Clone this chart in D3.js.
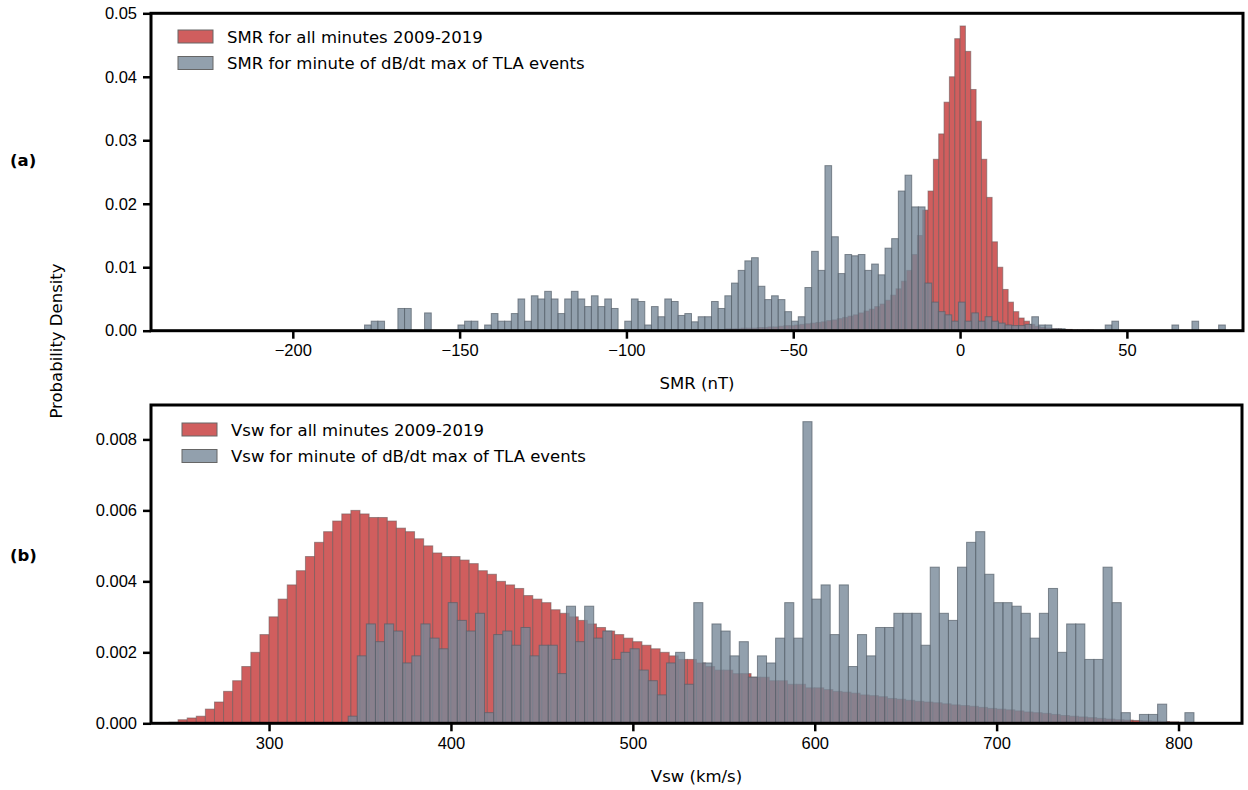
<!DOCTYPE html>
<html>
<head>
<meta charset="utf-8">
<script src="https://cdn.jsdelivr.net/npm/d3@7"></script>
<style>
  body { margin: 0; background: #fff; }
  svg { font-family: "DejaVu Sans", sans-serif; }
  .tick text { font-size: 16.5px; fill: #000; }
</style>
</head>
<body>
<script>
// ---- data: panel (a) SMR ----
const smrAllStart = -80, smrAllWidth = 1.6;
const smrAll = [
  0.0001, 0.0001, 0.0002, 0.0002, 0.0002, 0.0002, 0.0003, 0.0003, 0.0003, 0.0004,
  0.0004, 0.0004, 0.0005, 0.0005, 0.0006, 0.0006, 0.0007, 0.0008, 0.0008, 0.0009,
  0.0010, 0.0011, 0.0012, 0.0013, 0.0014, 0.0016, 0.0017, 0.0019, 0.0021, 0.0023,
  0.0025, 0.0028, 0.0031, 0.0034, 0.0038, 0.0042, 0.0048, 0.0056, 0.0066, 0.0078,
  0.0095, 0.0120, 0.0150, 0.0190, 0.0220, 0.0270, 0.0310, 0.0360, 0.0400, 0.0460,
  0.0480, 0.0440, 0.0380, 0.0330, 0.0270, 0.0210, 0.0140, 0.0100, 0.0065, 0.0045,
  0.0030, 0.0020, 0.0015, 0.0010, 0.0007, 0.0005, 0.0004, 0.0003, 0.0003, 0.0002,
  0.0002, 0.0001, 0.0001, 0.0001, 0.0001
];
const smrTlaStart = -178.5, smrTlaWidth = 2;
const smrTla = [
  0.0009, 0.0015, 0.0015, 0, 0, 0.0035, 0.0035, 0, 0, 0.0028,
  0, 0, 0, 0, 0.0009, 0.0015, 0.0015, 0, 0.0009, 0.0027,
  0.0015, 0.0015, 0.0027, 0.0050, 0.0015, 0.0055, 0.0050, 0.0062, 0.0050, 0.0027,
  0.0050, 0.0062, 0.0050, 0.0038, 0.0055, 0.0038, 0.0050, 0.0035, 0, 0.0015,
  0.0050, 0.0046, 0.0009, 0.0038, 0.0022, 0.0050, 0.0046, 0.0024, 0.0027, 0.0014,
  0.0022, 0.0022, 0.0046, 0.0035, 0.0055, 0.0075, 0.0095, 0.0110, 0.0115, 0.0070,
  0.0049, 0.0055, 0.0049, 0.0030, 0.0015, 0.0022, 0.0068, 0.0125, 0.0095, 0.0260,
  0.0148, 0.0090, 0.0120, 0.0118, 0.0120, 0.0095, 0.0105, 0.0088, 0.0130, 0.0145,
  0.0220, 0.0245, 0.0195, 0.0195, 0.0075, 0.0045, 0.0030, 0.0025, 0.0015, 0.0045,
  0.0015, 0.0028, 0.0015, 0.0022, 0.0015, 0.0012, 0.0009, 0.0008, 0.0008, 0.0010,
  0.0022, 0.0009, 0.0009, 0.0003, 0.0003, 0, 0, 0, 0, 0,
  0, 0.0009, 0.0015, 0, 0, 0, 0, 0, 0, 0,
  0, 0.0009, 0, 0, 0.0015, 0, 0, 0, 0.0009
];
const smrTicksX = [-200, -150, -100, -50, 0, 50];
const smrTicksY = [0, 0.01, 0.02, 0.03, 0.04, 0.05];

// ---- data: panel (b) Vsw ----
const vswAllStart = 245, vswAllWidth = 5;
const vswAll = [
  0.00003, 0.0001, 0.00015, 0.0002, 0.0004, 0.0006, 0.0009, 0.0012, 0.0016, 0.0020,
  0.0025, 0.0030, 0.0035, 0.0039, 0.0043, 0.0047, 0.0051, 0.0054, 0.0057, 0.0059,
  0.0060, 0.0059, 0.0058, 0.0058, 0.0057, 0.0055, 0.0054, 0.0052, 0.0050, 0.0048,
  0.0047, 0.0047, 0.0046, 0.0045, 0.0043, 0.0042, 0.0040, 0.0039, 0.0038, 0.0036,
  0.0035, 0.0034, 0.0032, 0.0031, 0.0030, 0.0029, 0.0028, 0.0027, 0.0026, 0.0025,
  0.0024, 0.0023, 0.0022, 0.0021, 0.0020, 0.0019, 0.0018, 0.0018, 0.0017, 0.0016,
  0.0015, 0.0015, 0.0014, 0.0014, 0.0013, 0.0013, 0.0012, 0.0012, 0.0011, 0.0011,
  0.0010, 0.0010, 0.00095, 0.0009, 0.00088, 0.00085, 0.0008, 0.00078, 0.00075, 0.0007,
  0.00068, 0.00065, 0.00062, 0.0006, 0.00058, 0.00055, 0.00052, 0.0005, 0.00048, 0.00045,
  0.00042, 0.0004, 0.00038, 0.00035, 0.00032, 0.0003, 0.00028, 0.00025, 0.00022, 0.0002,
  0.00018, 0.00016, 0.00014, 0.00012, 0.0001, 0.00009, 0.00008, 0.00007, 0.00006, 0.00005,
  0.00004, 0.00003, 0.00002, 0.00002, 0.00001
];
const vswTlaStart = 343.5, vswTlaWidth = 5;
const vswTla = [
  0.0002, 0.0019, 0.0028, 0.0023, 0.0028, 0.0026, 0.0017, 0.0019, 0.0028, 0.0024,
  0.0021, 0.0034, 0.0029, 0.0026, 0.0031, 0.0003, 0.0025, 0.0026, 0.0022, 0.0027,
  0.0019, 0.0022, 0.0022, 0.0014, 0.0033, 0.0023, 0.0033, 0.0024, 0.0026, 0.0018,
  0.0020, 0.0021, 0.0015, 0.0012, 0.0008, 0.0017, 0.0020, 0.0011, 0.0034, 0.0017,
  0.0028, 0.0026, 0.0019, 0.0023, 0.0013, 0.0019, 0.0017, 0.0024, 0.0034, 0.0024,
  0.0085, 0.0035, 0.0039, 0.0025, 0.0039, 0.0016, 0.0025, 0.0019, 0.0027, 0.0027,
  0.0031, 0.0031, 0.0031, 0.0022, 0.0044, 0.0031, 0.0029, 0.0044, 0.0051, 0.0054,
  0.0042, 0.0034, 0.0034, 0.0033, 0.0031, 0.0024, 0.0031, 0.0038, 0.0020, 0.0028,
  0.0028, 0.0018, 0.0018, 0.0044, 0.0034, 0.0003, 0, 0.00025, 0.00025, 0.00054,
  0, 0, 0.0003
];
const vswTicksX = [300, 400, 500, 600, 700, 800];
const vswTicksY = [0, 0.002, 0.004, 0.006, 0.008];

const redFill = "#cd5555", greyFill = "#778899";

const svg = d3.select("body").append("svg")
  .attr("width", 1248)
  .attr("height", 790);

function toBins(start, width, vals) {
  return vals.map((v, i) => ({ x0: start + i * width, x1: start + (i + 1) * width, v: v }));
}

function drawPanel(opt) {
  const x = d3.scaleLinear().domain(opt.xDomain).range([opt.left, opt.right]);
  const y = d3.scaleLinear().domain(opt.yDomain).range([opt.bottom, opt.top]);

  const g = svg.append("g");

  // red histogram (all minutes)
  g.append("g")
    .attr("fill", redFill)
    .attr("fill-opacity", 0.95)
    .attr("stroke", "#6e5a5a")
    .attr("stroke-opacity", 0.6)
    .attr("stroke-width", 1)
    .selectAll("rect")
    .data(toBins(opt.allStart, opt.allWidth, opt.all).filter(d => d.v > 0))
    .enter().append("rect")
    .attr("x", d => x(d.x0))
    .attr("y", d => y(d.v))
    .attr("width", d => x(d.x1) - x(d.x0))
    .attr("height", d => y(0) - y(d.v));

  // grey histogram (TLA events)
  g.append("g")
    .attr("fill", greyFill)
    .attr("fill-opacity", 0.8)
    .attr("stroke", "#555f6a")
    .attr("stroke-opacity", 0.7)
    .attr("stroke-width", 1)
    .selectAll("rect")
    .data(toBins(opt.tlaStart, opt.tlaWidth, opt.tla).filter(d => d.v > 0))
    .enter().append("rect")
    .attr("x", d => x(d.x0))
    .attr("y", d => y(d.v))
    .attr("width", d => x(d.x1) - x(d.x0))
    .attr("height", d => y(0) - y(d.v));

  // axes
  const xAxis = g.append("g")
    .attr("transform", "translate(0," + opt.bottom + ")")
    .call(d3.axisBottom(x).tickValues(opt.ticksX).tickSize(8).tickPadding(6));
  const yAxis = g.append("g")
    .attr("transform", "translate(" + opt.left + ",0)")
    .call(d3.axisLeft(y).tickValues(opt.ticksY).tickFormat(d3.format(opt.yFmt)).tickSize(8).tickPadding(6));
  [xAxis, yAxis].forEach(a => {
    a.select(".domain").remove();
    a.selectAll(".tick line").attr("stroke", "#000").attr("stroke-width", 2.5);
  });

  // frame
  g.append("rect")
    .attr("x", opt.left)
    .attr("y", opt.top)
    .attr("width", opt.right - opt.left)
    .attr("height", opt.bottom - opt.top)
    .attr("fill", "none")
    .attr("stroke", "#000")
    .attr("stroke-width", 3);

  // x label
  g.append("text")
    .attr("x", (opt.left + opt.right) / 2)
    .attr("y", opt.xLabelY)
    .attr("text-anchor", "middle")
    .attr("font-size", 16.5)
    .text(opt.xLabel);

  // legend
  const leg = g.append("g").attr("transform", "translate(" + opt.legX + "," + opt.legY + ")");
  const items = [
    { c: redFill, o: 0.95, t: opt.legAll },
    { c: greyFill, o: 0.8, t: opt.legTla }
  ];
  items.forEach((it, i) => {
    leg.append("rect")
      .attr("x", 0)
      .attr("y", i * 26.5)
      .attr("width", 35)
      .attr("height", 13)
      .attr("fill", it.c)
      .attr("fill-opacity", it.o)
      .attr("stroke", "#666")
      .attr("stroke-width", 1);
    leg.append("text")
      .attr("x", 49)
      .attr("y", i * 26.5 + 12.5)
      .attr("font-size", 16.5)
      .text(it.t);
  });

  // panel tag
  g.append("text")
    .attr("x", 10)
    .attr("y", opt.tagY)
    .attr("font-size", 16.5)
    .attr("font-weight", "bold")
    .text(opt.tag);
}

drawPanel({
  left: 151, right: 1243, top: 13.3, bottom: 330.7,
  xDomain: [-242.5, 84.8], yDomain: [0, 0.05],
  all: smrAll, allStart: smrAllStart, allWidth: smrAllWidth,
  tla: smrTla, tlaStart: smrTlaStart, tlaWidth: smrTlaWidth,
  ticksX: smrTicksX, ticksY: smrTicksY, yFmt: ".2f",
  xLabel: "SMR (nT)", xLabelY: 389,
  legX: 178, legY: 30,
  legAll: "SMR for all minutes 2009-2019",
  legTla: "SMR for minute of dB/dt max of TLA events",
  tag: "(a)", tagY: 166
});

drawPanel({
  left: 151, right: 1242, top: 405, bottom: 723.3,
  xDomain: [235.1, 834.9], yDomain: [0, 0.00897],
  all: vswAll, allStart: vswAllStart, allWidth: vswAllWidth,
  tla: vswTla, tlaStart: vswTlaStart, tlaWidth: vswTlaWidth,
  ticksX: vswTicksX, ticksY: vswTicksY, yFmt: ".3f",
  xLabel: "Vsw (km/s)", xLabelY: 782,
  legX: 182, legY: 423,
  legAll: "Vsw for all minutes 2009-2019",
  legTla: "Vsw for minute of dB/dt max of TLA events",
  tag: "(b)", tagY: 561
});

// shared y label
svg.append("text")
  .attr("transform", "translate(62,341) rotate(-90)")
  .attr("text-anchor", "middle")
  .attr("font-size", 16.5)
  .text("Probability Density");
</script>
</body>
</html>
